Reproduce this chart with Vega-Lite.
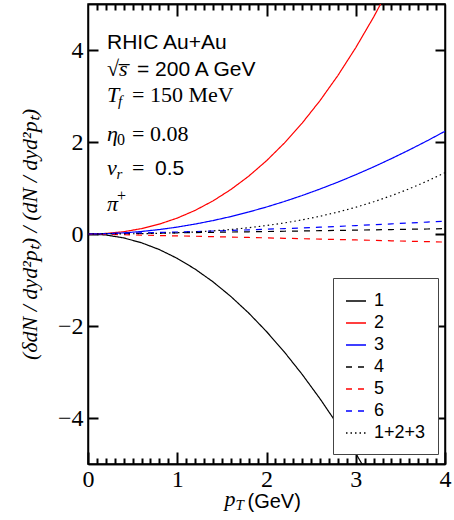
{
  "$schema": "https://vega.github.io/schema/vega-lite/v6.json",
  "width": 357,
  "height": 460,
  "autosize": {"type": "none"},
  "padding": {"left": 88, "top": 4, "right": 9, "bottom": 56},
  "background": "white",
  "config": {
    "view": {"stroke": "black", "strokeWidth": 1.5}
  },
  "datasets": {
    "curves": [
      {"pT": 0.0, "1": 0.0, "2": 0.0, "3": 0.0, "4": 0.0, "5": 0.0, "6": 0.0, "1+2+3": 0.0},
      {"pT": 0.2, "1": -0.021, "2": 0.012, "3": 0.006, "4": 0.005, "5": -0.008, "6": 0.007, "1+2+3": 0.001},
      {"pT": 0.4, "1": -0.085, "2": 0.05, "3": 0.024, "4": 0.01, "5": -0.016, "6": 0.015, "1+2+3": 0.003},
      {"pT": 0.6, "1": -0.191, "2": 0.117, "3": 0.055, "4": 0.015, "5": -0.024, "6": 0.024, "1+2+3": 0.007},
      {"pT": 0.8, "1": -0.339, "2": 0.215, "3": 0.097, "4": 0.021, "5": -0.033, "6": 0.033, "1+2+3": 0.015},
      {"pT": 1.0, "1": -0.53, "2": 0.346, "3": 0.15, "4": 0.026, "5": -0.041, "6": 0.043, "1+2+3": 0.027},
      {"pT": 1.2, "1": -0.763, "2": 0.513, "3": 0.216, "4": 0.031, "5": -0.049, "6": 0.054, "1+2+3": 0.045},
      {"pT": 1.4, "1": -1.039, "2": 0.719, "3": 0.292, "4": 0.037, "5": -0.058, "6": 0.065, "1+2+3": 0.068},
      {"pT": 1.6, "1": -1.357, "2": 0.966, "3": 0.379, "4": 0.043, "5": -0.067, "6": 0.077, "1+2+3": 0.098},
      {"pT": 1.8, "1": -1.717, "2": 1.256, "3": 0.478, "4": 0.048, "5": -0.075, "6": 0.09, "1+2+3": 0.137},
      {"pT": 2.0, "1": -2.12, "2": 1.592, "3": 0.587, "4": 0.054, "5": -0.084, "6": 0.104, "1+2+3": 0.184},
      {"pT": 2.2, "1": -2.565, "2": 1.977, "3": 0.707, "4": 0.06, "5": -0.093, "6": 0.118, "1+2+3": 0.24},
      {"pT": 2.4, "1": -3.053, "2": 2.412, "3": 0.837, "4": 0.066, "5": -0.102, "6": 0.133, "1+2+3": 0.307},
      {"pT": 2.6, "1": -3.583, "2": 2.901, "3": 0.978, "4": 0.072, "5": -0.111, "6": 0.149, "1+2+3": 0.386},
      {"pT": 2.8, "1": -4.155, "2": 3.446, "3": 1.128, "4": 0.078, "5": -0.12, "6": 0.166, "1+2+3": 0.477},
      {"pT": 3.0, "1": -4.77, "2": 4.05, "3": 1.289, "4": 0.084, "5": -0.129, "6": 0.183, "1+2+3": 0.581},
      {"pT": 3.2, "1": -5.427, "2": 4.715, "3": 1.459, "4": 0.09, "5": -0.138, "6": 0.201, "1+2+3": 0.7},
      {"pT": 3.4, "1": null, "2": 5.442, "3": 1.639, "4": 0.097, "5": -0.148, "6": 0.22, "1+2+3": 0.833},
      {"pT": 3.6, "1": null, "2": null, "3": 1.828, "4": 0.103, "5": -0.157, "6": 0.239, "1+2+3": 0.983},
      {"pT": 3.8, "1": null, "2": null, "3": 2.026, "4": 0.109, "5": -0.166, "6": 0.259, "1+2+3": 1.149},
      {"pT": 4.0, "1": null, "2": null, "3": 2.234, "4": 0.116, "5": -0.176, "6": 0.28, "1+2+3": 1.333}
    ],
    "sansText": [
      {"t": "RHIC Au+Au", "x": 0.213, "y": 4.015},
      {"t": "= 200 A GeV", "x": 0.549, "y": 3.435},
      {"t": "0.5", "x": 0.751, "y": 1.283}
    ],
    "mathItalic": [
      {"t": "√s̅", "x": 0.213, "y": 3.435},
      {"t": "T", "x": 0.213, "y": 2.876},
      {"t": "η", "x": 0.213, "y": 2.022},
      {"t": "v", "x": 0.213, "y": 1.283},
      {"t": "π", "x": 0.213, "y": 0.5}
    ],
    "mathUpright": [
      {"t": "= 150 MeV", "x": 0.493, "y": 2.876},
      {"t": "= 0.08", "x": 0.493, "y": 2.022},
      {"t": "=", "x": 0.493, "y": 1.283}
    ],
    "scriptItalic": [
      {"t": "f", "x": 0.336, "y": 2.772},
      {"t": "r", "x": 0.319, "y": 1.185}
    ],
    "scriptUpright": [
      {"t": "0", "x": 0.325, "y": 1.924},
      {"t": "+", "x": 0.325, "y": 0.717}
    ]
  },
  "resolve": {"axis": {"x": "independent", "y": "independent"}},
  "layer": [
    {
      "data": {"name": "curves"},
      "transform": [
        {"fold": ["1", "2", "3", "4", "5", "6", "1+2+3"], "as": ["series", "value"]}
      ],
      "mark": {"type": "line", "strokeWidth": 1.2, "clip": true},
      "encoding": {
        "x": {
          "field": "pT", "type": "quantitative",
          "scale": {"domain": [0, 4], "nice": false, "zero": false},
          "axis": {
            "orient": "bottom", "values": [0, 1, 2, 3, 4], "grid": false,
            "domain": true, "domainColor": "black", "domainWidth": 1.5,
            "ticks": true, "tickSize": -12, "tickColor": "black", "tickWidth": 2,
            "labelPadding": 15, "labelFlush": false,
            "labelFont": "Liberation Serif", "labelFontSize": 24, "labelColor": "black",
            "title": "(GeV)", "titleFont": "Liberation Sans", "titleFontSize": 20, "titleFontWeight": "normal", "titleColor": "black",
            "titleX": 159, "titleY": 43, "titleAlign": "left", "titleBaseline": "alphabetic"
          }
        },
        "y": {
          "field": "value", "type": "quantitative",
          "scale": {"domain": [-5, 5], "nice": false, "zero": false},
          "axis": {
            "orient": "left", "values": [-4, -2, 0, 2, 4], "grid": false,
            "domain": true, "domainColor": "black", "domainWidth": 1.5,
            "ticks": true, "tickSize": -10, "tickColor": "black", "tickWidth": 2,
            "labelPadding": 15, "labelFlush": false,
            "labelFont": "Liberation Serif", "labelFontSize": 24, "labelColor": "black",
            "title": "(δdN / dyd²pₜ) / (dN / dyd²pₜ)",
            "titleFont": "Liberation Serif", "titleFontStyle": "italic", "titleFontSize": 22, "titleFontWeight": "normal", "titleColor": "black",
            "titleAngle": 270, "titleX": -59, "titleY": 230, "titleAlign": "center", "titleBaseline": "middle"
          }
        },
        "color": {
          "field": "series", "type": "nominal",
          "scale": {
            "domain": ["1", "2", "3", "4", "5", "6", "1+2+3"],
            "range": ["#000000", "#ff0000", "#0000ff", "#000000", "#ff0000", "#0000ff", "#000000"]
          },
          "legend": {
            "title": null, "orient": "none", "legendX": 245, "legendY": 274,
            "symbolType": "stroke", "symbolSize": 400, "symbolStrokeWidth": 1.3,
            "labelFont": "Liberation Sans", "labelFontSize": 18, "labelColor": "black", "labelOffset": 7,
            "strokeColor": "#444444", "fillColor": "white", "padding": 12, "rowPadding": 2
          }
        },
        "strokeDash": {
          "field": "series", "type": "nominal",
          "scale": {
            "domain": ["1", "2", "3", "4", "5", "6", "1+2+3"],
            "range": [[1, 0], [1, 0], [1, 0], [6, 6], [6, 6], [6, 6], [1.5, 3]]
          },
          "legend": {"title": null}
        }
      }
    },
    {
      "data": {"name": "curves"},
      "mark": {"type": "point", "opacity": 0},
      "encoding": {
        "x": {
          "field": "pT", "type": "quantitative",
          "axis": {
            "orient": "bottom", "grid": false,
            "domain": true, "domainColor": "black", "domainWidth": 1.5,
            "ticks": true, "tickSize": -6, "tickColor": "black", "tickWidth": 2,
            "values": [0.1, 0.2, 0.3, 0.4, 0.5, 0.6, 0.7, 0.8, 0.9, 1.1, 1.2, 1.3, 1.4, 1.5, 1.6, 1.7, 1.8, 1.9, 2.1, 2.2, 2.3, 2.4, 2.5, 2.6, 2.7, 2.8, 2.9, 3.1, 3.2, 3.3, 3.4, 3.5, 3.6, 3.7, 3.8, 3.9],
            "labels": false,
            "title": "p", "titleFont": "Liberation Serif", "titleFontStyle": "italic", "titleFontSize": 22, "titleFontWeight": "normal", "titleColor": "black",
            "titleX": 136, "titleY": 41, "titleAlign": "left", "titleBaseline": "alphabetic"
          }
        },
        "y": {
          "field": "1", "type": "quantitative",
          "axis": {
            "orient": "right", "values": [-4, -2, 0, 2, 4], "grid": false,
            "domain": true, "domainColor": "black", "domainWidth": 1.5,
            "ticks": true, "tickSize": -10, "tickColor": "black", "tickWidth": 2,
            "labels": false, "title": null
          }
        }
      }
    },
    {
      "data": {"name": "curves"},
      "mark": {"type": "point", "opacity": 0},
      "encoding": {
        "x": {
          "field": "pT", "type": "quantitative",
          "axis": {
            "orient": "top", "grid": false,
            "domain": true, "domainColor": "black", "domainWidth": 1.5,
            "ticks": true, "tickSize": -6, "tickColor": "black", "tickWidth": 2,
            "values": [0.1, 0.2, 0.3, 0.4, 0.5, 0.6, 0.7, 0.8, 0.9, 1.1, 1.2, 1.3, 1.4, 1.5, 1.6, 1.7, 1.8, 1.9, 2.1, 2.2, 2.3, 2.4, 2.5, 2.6, 2.7, 2.8, 2.9, 3.1, 3.2, 3.3, 3.4, 3.5, 3.6, 3.7, 3.8, 3.9],
            "labels": false,
            "title": "T", "titleFont": "Liberation Serif", "titleFontStyle": "italic", "titleFontSize": 15, "titleFontWeight": "normal", "titleColor": "black",
            "titleX": 147, "titleY": 505, "titleAlign": "left", "titleBaseline": "alphabetic"
          }
        },
        "y": {"field": "1", "type": "quantitative", "axis": null}
      }
    },
    {
      "data": {"name": "curves"},
      "mark": {"type": "point", "opacity": 0},
      "encoding": {
        "x": {
          "field": "pT", "type": "quantitative",
          "axis": {
            "orient": "top", "grid": false,
            "domain": true, "domainColor": "black", "domainWidth": 1.5,
            "ticks": true, "tickSize": -12, "tickColor": "black", "tickWidth": 2,
            "values": [1, 2, 3], "labels": false, "title": null
          }
        },
        "y": {"field": "1", "type": "quantitative", "axis": null}
      }
    },
    {
      "data": {"name": "sansText"},
      "mark": {"type": "text", "font": "Liberation Sans", "fontSize": 21, "align": "left", "baseline": "alphabetic", "color": "black"},
      "encoding": {
        "x": {"field": "x", "type": "quantitative", "axis": null},
        "y": {"field": "y", "type": "quantitative", "axis": null},
        "text": {"field": "t"}
      }
    },
    {
      "data": {"name": "mathItalic"},
      "mark": {"type": "text", "font": "Liberation Serif", "fontStyle": "italic", "fontSize": 22, "align": "left", "baseline": "alphabetic", "color": "black"},
      "encoding": {
        "x": {"field": "x", "type": "quantitative", "axis": null},
        "y": {"field": "y", "type": "quantitative", "axis": null},
        "text": {"field": "t"}
      }
    },
    {
      "data": {"name": "mathUpright"},
      "mark": {"type": "text", "font": "Liberation Serif", "fontSize": 22, "align": "left", "baseline": "alphabetic", "color": "black"},
      "encoding": {
        "x": {"field": "x", "type": "quantitative", "axis": null},
        "y": {"field": "y", "type": "quantitative", "axis": null},
        "text": {"field": "t"}
      }
    },
    {
      "data": {"name": "scriptItalic"},
      "mark": {"type": "text", "font": "Liberation Serif", "fontStyle": "italic", "fontSize": 15, "align": "left", "baseline": "alphabetic", "color": "black"},
      "encoding": {
        "x": {"field": "x", "type": "quantitative", "axis": null},
        "y": {"field": "y", "type": "quantitative", "axis": null},
        "text": {"field": "t"}
      }
    },
    {
      "data": {"name": "scriptUpright"},
      "mark": {"type": "text", "font": "Liberation Serif", "fontSize": 16, "align": "left", "baseline": "alphabetic", "color": "black"},
      "encoding": {
        "x": {"field": "x", "type": "quantitative", "axis": null},
        "y": {"field": "y", "type": "quantitative", "axis": null},
        "text": {"field": "t"}
      }
    }
  ]
}
